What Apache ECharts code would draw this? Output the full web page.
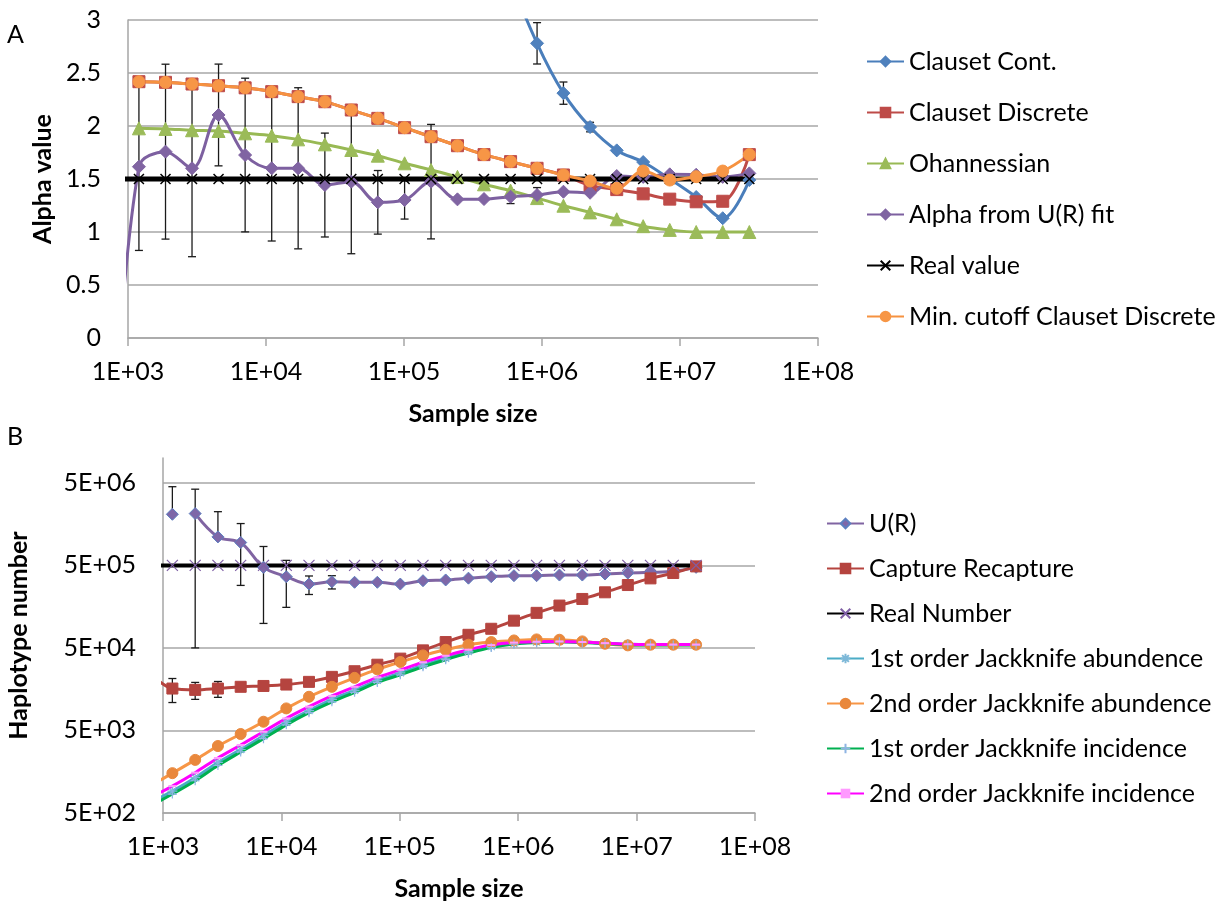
<!DOCTYPE html>
<html><head><meta charset="utf-8">
<script src="https://cdn.jsdelivr.net/npm/echarts@6/dist/echarts.min.js"></script>
<style>html,body{margin:0;padding:0;background:#fff}#c{width:1222px;height:902px}</style>
</head><body><div id="c"></div>
<script>
// ---------- shared x values (sample sizes) ----------
const sampleSizes = [770, 1200, 1870, 2910, 4530, 7060, 11000, 17100, 26700, 41500, 64600, 101000, 157000, 244000, 380000, 592000, 921000, 1430000, 2230000, 3480000, 5410000, 8430000, 13100000, 20400000, 31800000];
const xTickLabels = ['1E+03', '1E+04', '1E+05', '1E+06', '1E+07', '1E+08'];
const alphaTickLabels = ['0', '0.5', '1', '1.5', '2', '2.5', '3'];
const hapTickLabels = ['5E+02', '5E+03', '5E+04', '5E+05', '5E+06'];

// ---------- panel A: alpha value ----------
const namesA = ['Clauset Cont.', 'Clauset Discrete', 'Ohannessian', 'Alpha from U(R) fit', 'Real value', 'Min. cutoff Clauset Discrete'];
const clausetCont = [null, null, null, null, null, null, null, null, null, null, null, null, null, null, 4.3, 3.4, 2.78, 2.31, 1.99, 1.77, 1.66, 1.50, 1.33, 1.13, 1.49];
const clausetContErr = [null, null, null, null, null, null, null, null, null, null, null, null, null, null, null, null, 0.195, 0.105, 0.045, 0.02, null, null, null, null, null];
const clausetDiscrete = [null, 2.418, 2.412, 2.396, 2.38, 2.36, 2.324, 2.277, 2.229, 2.151, 2.072, 1.984, 1.899, 1.814, 1.73, 1.664, 1.601, 1.538, 1.44, 1.40, 1.36, 1.31, 1.285, 1.29, 1.73];
const ohannessian = [null, 1.978, 1.972, 1.96, 1.953, 1.931, 1.909, 1.874, 1.827, 1.774, 1.72, 1.648, 1.585, 1.52, 1.45, 1.39, 1.32, 1.248, 1.185, 1.12, 1.055, 1.02, 1.0, 1.0, 1.0];
const alphaUR = [-1.1, 1.616, 1.758, 1.601, 2.104, 1.726, 1.601, 1.601, 1.443, 1.475, 1.28, 1.302, 1.475, 1.308, 1.311, 1.333, 1.349, 1.38, 1.37, 1.528, 1.52, 1.544, 1.54, 1.52, 1.553];
const alphaURErr = [null, 0.79, 0.825, 0.834, 0.48, 0.725, 0.686, 0.76, 0.49, 0.68, 0.30, 0.18, 0.54, null, null, 0.065, 0.07, null, null, null, null, null, null, null, null];
const realAlpha = [1.5, 1.5, 1.5, 1.5, 1.5, 1.5, 1.5, 1.5, 1.5, 1.5, 1.5, 1.5, 1.5, 1.5, 1.5, 1.5, 1.5, 1.5, 1.5, 1.5, 1.5, 1.5, 1.5, 1.5, 1.5];
const minCutoff = [null, 2.418, 2.412, 2.396, 2.38, 2.36, 2.324, 2.277, 2.229, 2.151, 2.072, 1.984, 1.899, 1.814, 1.73, 1.664, 1.601, 1.538, 1.481, 1.412, 1.575, 1.49, 1.522, 1.575, 1.73];

// ---------- panel B: haplotype number ----------
const namesB = ['U(R)', 'Capture Recapture', 'Real Number', '1st order Jackknife abundence', '2nd order Jackknife abundence', '1st order Jackknife incidence', '2nd order Jackknife incidence'];
const uR = [null, 2080000, 2120000, 1107000, 946000, 473000, 365000, 297000, 317000, 312000, 312000, 297000, 326000, 333000, 350000, 365000, 375000, 375000, 382000, 382000, 393000, 404000, 412000, 424000, 473000];
const uRErr = [null, 2410000, 2070000, 1130000, 660000, 374000, 210000, 75000, 58000, null, null, null, null, null, null, null, null, null, null, null, null, null, null, null, null];
const uRBreakAfter = 1; // the U(R) line is not drawn between its first and second points
const captureRecapture = [25000, 16100, 15500, 16100, 16900, 17300, 18000, 19400, 22300, 26100, 31300, 37100, 46700, 58900, 72100, 85300, 107000, 133000, 163000, 196000, 236000, 289000, 348000, 404000, 486000];
const captureErr = [null, 5200, 3600, 3500, null, null, null, null, null, null, null, null, null, null, null, null, null, null, null, null, null, null, null, null, null];
const realNumber = [500000, 500000, 500000, 500000, 500000, 500000, 500000, 500000, 500000, 500000, 500000, 500000, 500000, 500000, 500000, 500000, 500000, 500000, 500000, 500000, 500000, 500000, 500000, 500000, 500000];
const jk1Abund = [660, 922, 1340, 2050, 2940, 4320, 6270, 8680, 11900, 15300, 20200, 24900, 30800, 37500, 45000, 51900, 56400, 58700, 60000, 59000, 57200, 55500, 55000, 55000, 55000];
const jk2Abund = [1050, 1520, 2200, 3240, 4530, 6380, 9250, 12800, 16900, 21700, 27500, 33800, 40600, 47500, 54700, 58900, 61600, 63400, 62800, 60000, 56200, 53700, 54700, 54700, 54700];
const jk1Incid = [600, 848, 1230, 1880, 2740, 3980, 5850, 8210, 11100, 14500, 19100, 23600, 29500, 36000, 43200, 50500, 55600, 57900, 59200, 58200, 56400, 54700, 54200, 54200, 54200];
const jk2Incid = [760, 1060, 1540, 2320, 3330, 4830, 7000, 9700, 13100, 16900, 22000, 27100, 33500, 40200, 47600, 54100, 58000, 59500, 60000, 59000, 57200, 55500, 55000, 55000, 55000];

// ---------- helpers ----------
const FONT = 'Lato, "Open Sans", sans-serif';
const FS = 25;
const TXT = '#000';
const GRID_COLOR = '#BDBDBD';
const AXIS_COLOR = '#A6A6A6';
const SYM_X = 'path://M0,0L10,10M10,0L0,10';
const SYM_AST = 'path://M5,0L5,10M0,5L10,5M1.5,1.5L8.5,8.5M8.5,1.5L1.5,8.5';
const SYM_PLUS = 'path://M5,0L5,10M0,5L10,5';
const SYM_DASH = 'path://M0,4L10,4L10,6L0,6Z';

function pairs(vals) {
  return sampleSizes.map((x, i) => [x, vals[i]]).filter(p => p[1] != null);
}
function pairsWithBreak(vals, breakAfter) {
  const out = [];
  sampleSizes.forEach((x, i) => {
    if (vals[i] == null) return;
    out.push([x, vals[i]]);
    if (i === breakAfter) out.push([x, null]);
  });
  return out;
}
function errData(vals, errs) {
  const out = [];
  sampleSizes.forEach((x, i) => {
    if (vals[i] == null || errs[i] == null) return;
    const hi = vals[i] + errs[i];
    let lo = vals[i] - errs[i];
    let hasLo = 1;
    if (lo <= 0) { lo = vals[i]; hasLo = 0; }
    out.push([x, vals[i], lo, hi, hasLo]);
  });
  return out;
}
function errRender(params, api) {
  const x = api.value(0), lo = api.value(2), hi = api.value(3), hasLo = api.value(4);
  const p1 = api.coord([x, hi]), p2 = api.coord([x, lo]);
  const w = 4;
  const style = { stroke: '#1a1a1a', lineWidth: 1.3 };
  const ch = [
    { type: 'line', shape: { x1: p1[0], y1: p1[1], x2: p2[0], y2: p2[1] }, style },
    { type: 'line', shape: { x1: p1[0] - w, y1: p1[1], x2: p1[0] + w, y2: p1[1] }, style }
  ];
  if (hasLo) ch.push({ type: 'line', shape: { x1: p2[0] - w, y1: p2[1], x2: p2[0] + w, y2: p2[1] }, style });
  return { type: 'group', children: ch };
}
function errSeries(idx, vals, errs) {
  return {
    type: 'custom', xAxisIndex: idx, yAxisIndex: idx, clip: true, silent: true,
    renderItem: errRender, data: errData(vals, errs),
    encode: { x: 0, y: [1, 2, 3] }
  };
}
function lineSeries(idx, name, data, color, lineColor, symbol, size, width, extra) {
  return Object.assign({
    type: 'line', name, xAxisIndex: idx, yAxisIndex: idx, data,
    smooth: 0.35, symbol, symbolSize: size, showSymbol: true, showAllSymbol: true,
    connectNulls: false, clip: true,
    lineStyle: { color: lineColor, width },
    itemStyle: { color, borderColor: color, borderWidth: 1 },
    emphasis: { disabled: true }
  }, extra || {});
}
function xLabel(v) {
  const e = Math.round(Math.log10(v)) - 3;
  return xTickLabels[e] !== undefined ? xTickLabels[e] : '';
}
function hapLabel(v) {
  const r = Math.log10(v / 500);
  const i = Math.round(r);
  return (Math.abs(r - i) < 0.01 && hapTickLabels[i] !== undefined) ? hapTickLabels[i] : '';
}
const axisLabelStyle = { color: TXT, fontSize: FS, fontFamily: FONT };
const nameStyle = { color: TXT, fontSize: FS, fontFamily: FONT, fontWeight: 'bold' };

const chart = echarts.init(document.getElementById('c'), null, { renderer: 'canvas' });
chart.setOption({
  animation: false,
  backgroundColor: '#fff',
  title: [
    { text: 'A', left: 2, top: 17, textStyle: { fontSize: FS, fontWeight: 'normal', fontFamily: FONT, color: TXT } },
    { text: 'B', left: 2, top: 419, textStyle: { fontSize: FS, fontWeight: 'normal', fontFamily: FONT, color: TXT } }
  ],
  grid: [
    { left: 128, top: 20, width: 690, height: 318, containLabel: false },
    { left: 163, top: 458, width: 592, height: 357, containLabel: false }
  ],
  xAxis: [0, 1].map(i => ({
    type: 'log', logBase: 10, gridIndex: i, min: 1000, max: 100000000,
    name: 'Sample size', nameLocation: 'middle', nameGap: 63, nameTextStyle: nameStyle,
    axisLine: { show: true, lineStyle: { color: AXIS_COLOR, width: 1.5 } },
    axisTick: { show: true, inside: false, length: 8, lineStyle: { color: AXIS_COLOR, width: 1.5 } },
    axisLabel: Object.assign({ margin: 21, formatter: xLabel }, axisLabelStyle),
    splitLine: { show: false }, minorTick: { show: false }, minorSplitLine: { show: false }
  })),
  yAxis: [
    {
      type: 'value', gridIndex: 0, min: 0, max: 3, interval: 0.5,
      name: 'Alpha value', nameLocation: 'middle', nameGap: 72, nameRotate: 90, nameTextStyle: nameStyle,
      axisLine: { show: true, lineStyle: { color: AXIS_COLOR, width: 1.5 } },
      axisTick: { show: false },
      axisLabel: Object.assign({ margin: 27, formatter: v => alphaTickLabels[Math.round(v / 0.5)] }, axisLabelStyle),
      splitLine: { show: true, lineStyle: { color: GRID_COLOR, width: 2 } }
    },
    {
      type: 'log', logBase: 10, gridIndex: 1, min: 500, max: 10000000, interval: 1,
      name: 'Haplotype number', nameLocation: 'middle', nameGap: 132, nameRotate: 90, nameTextStyle: nameStyle,
      axisLine: { show: true, lineStyle: { color: AXIS_COLOR, width: 1.5 } },
      axisTick: { show: false },
      axisLabel: Object.assign({ margin: 27, formatter: hapLabel, showMaxLabel: false }, axisLabelStyle),
      splitLine: { show: true, showMaxLine: false, lineStyle: { color: GRID_COLOR, width: 2 } },
      minorTick: { show: false }, minorSplitLine: { show: false }
    }
  ],
  legend: [
    {
      data: namesA, orient: 'vertical', left: 861, top: 44, itemWidth: 37, itemHeight: 12, itemGap: 26,
      textStyle: { color: TXT, fontSize: FS, fontFamily: FONT }, selectedMode: false
    },
    {
      data: namesB, orient: 'vertical', left: 821, top: 506, itemWidth: 37, itemHeight: 12, itemGap: 20,
      textStyle: { color: TXT, fontSize: FS, fontFamily: FONT }, selectedMode: false
    }
  ],
  series: [
    // panel A
    lineSeries(0, namesA[0], pairs(clausetCont), '#4F81BD', '#4A7EBB', 'diamond', 13, 3),
    errSeries(0, clausetCont, clausetContErr),
    lineSeries(0, namesA[1], pairs(clausetDiscrete), '#BE4B48', '#BE4B48', 'rect', 12, 3),
    lineSeries(0, namesA[2], pairs(ohannessian), '#9BBB59', '#98B954', 'triangle', 13, 3),
    lineSeries(0, namesA[3], pairs(alphaUR), '#8064A2', '#7D60A0', 'diamond', 13, 3),
    errSeries(0, alphaUR, alphaURErr),
    lineSeries(0, namesA[4], pairs(realAlpha), '#000', '#000', SYM_X, 10, 5,
      { itemStyle: { color: '#000', borderColor: '#000', borderWidth: 1.5 } }),
    lineSeries(0, namesA[5], pairs(minCutoff), '#F79646', '#F69240', 'circle', 12, 3),
    // panel B
    lineSeries(1, namesB[0], pairsWithBreak(uR, uRBreakAfter), '#8064A2', '#8064A2', 'diamond', 12, 3,
      { itemStyle: { color: '#7E67A8', borderColor: '#5B7FC0', borderWidth: 1 } }),
    errSeries(1, uR, uRErr),
    lineSeries(1, namesB[1], pairs(captureRecapture), '#B5443F', '#B5443F', 'rect', 11, 3),
    errSeries(1, captureRecapture, captureErr),
    lineSeries(1, namesB[2], pairs(realNumber), '#000', '#000', SYM_X, 11, 4,
      { itemStyle: { color: '#7F5FA5', borderColor: '#7F5FA5', borderWidth: 1.2 } }),
    lineSeries(1, namesB[3], pairs(jk1Abund), '#4BACC6', '#4BACC6', SYM_AST, 10, 3,
      { itemStyle: { color: '#4BACC6', borderColor: '#7DB8D8', borderWidth: 1.2 } }),
    lineSeries(1, namesB[4], pairs(jk2Abund), '#E9883C', '#F79646', 'circle', 11, 3),
    lineSeries(1, namesB[5], pairs(jk1Incid), '#00B050', '#00B050', SYM_PLUS, 9, 3,
      { itemStyle: { color: '#8EB4E3', borderColor: '#8EB4E3', borderWidth: 1.2 } }),
    lineSeries(1, namesB[6], pairs(jk2Incid), '#FF99FF', '#FF00FF', SYM_DASH, [8, 2], 3,
      { itemStyle: { color: '#FF99FF', borderColor: '#FF99FF', borderWidth: 0 } })
  ]
});
</script>
</body></html>
